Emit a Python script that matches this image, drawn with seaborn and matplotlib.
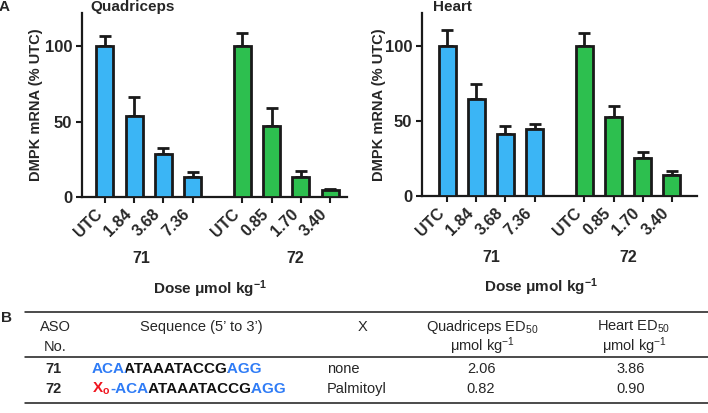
import matplotlib
matplotlib.use("Agg")
import matplotlib.pyplot as plt
import matplotlib.transforms as mtransforms
from matplotlib.font_manager import FontProperties
from matplotlib.textpath import TextToPath
import numpy as np
import pandas as pd
import seaborn as sns

# ---- data ----
doses = ["UTC", "1.84", "3.68", "7.36", "UTC", "0.85", "1.70", "3.40"]
aso = ["71", "71", "71", "71", "72", "72", "72", "72"]
quad_mean = [100, 54, 28.5, 13, 100, 47, 13.5, 4.4]
quad_sd = [6.5, 12, 4, 3.5, 9, 12, 3.5, 1.2]
heart_mean = [100, 65, 41.5, 45, 100, 53, 25.3, 14]
heart_sd = [11, 9.5, 5, 3, 9, 7, 4.2, 3]

tab_aso = ["71", "72"]
tab_x = ["none", "Palmitoyl"]
tab_quad_ed50 = ["2.06", "0.82"]
tab_heart_ed50 = ["3.86", "0.90"]

BLUE = "#3BB5F5"
GREEN = "#2DBF4F"
RED = "#F0141E"
SEQ_BLUE = "#2F7CF6"
INK = "#1a1a1a"

sns.set_style("ticks")
plt.rcParams["font.family"] = ["Liberation Sans", "DejaVu Sans"]
plt.rcParams["mathtext.fontset"] = "custom"
plt.rcParams["mathtext.rm"] = "Liberation Sans"
plt.rcParams["mathtext.bf"] = "Liberation Sans:bold"
plt.rcParams["mathtext.it"] = "Liberation Sans:italic"

# bar positions: second ASO group shifted to leave a gap
gap = 0.7
pos = [i + (gap if a == "72" else 0) for i, a in enumerate(aso)]

fig = plt.figure(figsize=(7.08, 4.13), dpi=100)
ax_q = fig.add_axes([82 / 708, 1 - 197 / 413, 265 / 708, 184 / 413])
ax_h = fig.add_axes([422 / 708, 1 - 196 / 413, 275 / 708, 183 / 413])


def panel(ax, means, sds, title, title_x, xlim, grp_x, ylab_x, xlab_x):
    df = pd.DataFrame({"pos": pos, "mean": means, "sd": sds, "aso": aso})
    sns.barplot(data=df, x="pos", y="mean", hue="aso", palette=[BLUE, GREEN],
                saturation=1, native_scale=True, dodge=False, width=0.58,
                edgecolor=INK, linewidth=2, errorbar=None, legend=False,
                ax=ax, zorder=3)
    ax.errorbar(df["pos"], df["mean"], yerr=[np.zeros(len(df)), df["sd"]],
                fmt="none", ecolor=INK, elinewidth=2, capsize=4.5,
                capthick=2, zorder=2)
    ax.set_xlim(*xlim)
    ax.set_ylim(0, 122)
    ax.set_yticks([0, 50, 100])
    ax.set_yticklabels(["0", "50", "100"], fontsize=12, fontweight="bold")
    ax.set_xticks(pos)
    ax.set_xticklabels(doses, rotation=45, ha="right", fontsize=11.5,
                       fontweight="bold")
    shift = mtransforms.ScaledTranslation(4 / 100, 0, fig.dpi_scale_trans)
    for lab in ax.get_xticklabels():
        lab.set_transform(lab.get_transform() + shift)
    ax.tick_params(axis="both", width=1.5, length=4, color=INK, pad=3)
    for s in ["left", "bottom"]:
        ax.spines[s].set_linewidth(1.6)
        ax.spines[s].set_color(INK)
    sns.despine(ax=ax)
    ax.set_ylabel("DMPK mRNA (% UTC)", fontsize=10.5, fontweight="bold")
    ax.yaxis.set_label_coords(ylab_x, 0.5)
    ax.set_xlabel("Dose \u03bcmol kg$^{\\mathbf{-1}}$", fontsize=11, fontweight="bold")
    ax.xaxis.set_label_coords(xlab_x, -0.44)
    for g, gx in zip(["71", "72"], grp_x):
        ax.text(gx, -0.335, g, transform=ax.get_xaxis_transform(), ha="center",
                va="center", fontsize=11.5, fontweight="bold")
    fig.text(title_x / 708, 1 - 7 / 413, title, ha="left", va="center",
             fontsize=11, fontweight="bold")


panel(ax_q, quad_mean, quad_sd, "Quadriceps", 90, (-0.78, 8.28), [1.25, 6.5], -0.147, 0.483)
panel(ax_h, heart_mean, heart_sd, "Heart", 433, (-0.86, 8.56), [1.5, 6.2], -0.13, 0.433)

fig.text(4 / 708, 1 - 7 / 413, "A", ha="center", va="center", fontsize=11, fontweight="bold")
fig.text(6 / 708, 1 - 318 / 413, "B", ha="center", va="center", fontsize=11, fontweight="bold")

# ---- table (panel B) ----
# table axes: one data unit = one pixel, y pointing down
tab = fig.add_axes([0, 0, 1, 1], zorder=-1)
tab.set_xlim(0, 708)
tab.set_ylim(413, 0)
tab.axis("off")
for yl in [312, 357, 403]:
    tab.plot([25, 708], [yl, yl], color=INK, lw=1.1)

hdr = dict(fontsize=10.5, ha="center", va="baseline")
tab.text(55, 331, "ASO", **hdr)
tab.text(55, 351, "No.", **hdr)
tab.text(201, 331, "Sequence (5\u2019 to 3\u2019)", **hdr)
tab.text(363, 331, "X", **hdr)
tab.text(482, 331, "Quadriceps ED$_{50}$", **hdr)
tab.text(482, 351, "\u03bcmol kg$^{-1}$", **hdr)
tab.text(634, 331, "Heart ED$_{50}$", **hdr)
tab.text(634, 351, "\u03bcmol kg$^{-1}$", **hdr)

SEQ_SIZE = 11
renderer = fig.canvas.get_renderer()
seq_kw = dict(ha="left", va="baseline", fontsize=SEQ_SIZE, fontweight="bold")
seq_prop = FontProperties(family="Liberation Sans", weight="bold", size=SEQ_SIZE)
t2p = TextToPath()


def ink_width(s):
    t = tab.text(0, 0, s, **seq_kw)
    w = t.get_window_extent(renderer).width
    t.remove()
    return w


def math_width(s):
    w, _, _ = t2p.get_text_width_height_descent(s, seq_prop, ismath=True)
    return w * fig.dpi / 72


def colored_text(x, y, parts):
    # optional mathtext lead (X_o), then the plain sequence drawn whole once
    # per colour and clipped, so spacing is exactly that of one string
    if parts[0][0].startswith("$"):
        tab.text(x, y, parts[0][0], color=parts[0][1], **seq_kw)
        x += math_width(parts[0][0]) + 0.5
        parts = parts[1:]
    full = "".join(s for s, _ in parts)
    cuts, prefix = [x - 6], ""
    for s, _ in parts[:-1]:
        prefix += s
        cuts.append(x + ink_width(prefix) + 0.6)
    cuts.append(x + ink_width(full) + 6)
    for i, (_, c) in enumerate(parts):
        (x0, y0), (x1, y1) = tab.transData.transform([(cuts[i], y + 8), (cuts[i + 1], y - 18)])
        clip = mtransforms.Bbox.from_extents(min(x0, x1), min(y0, y1), max(x0, x1), max(y0, y1))
        t = tab.text(x, y, full, color=c, **seq_kw)
        t.set_clip_box(clip)
        t.set_clip_on(True)


seq_parts = [
    [("ACA", SEQ_BLUE), ("ATAAATACCG", "#111111"), ("AGG", SEQ_BLUE)],
    [(r"$\mathbf{X}_{\mathbf{o}}$", RED), ("-ACA", SEQ_BLUE),
     ("ATAAATACCG", "#111111"), ("AGG", SEQ_BLUE)],
]
for i, y in enumerate([373, 393]):
    tab.text(53, y, tab_aso[i], ha="center", va="baseline", fontsize=10.5, fontweight="bold")
    colored_text(92, y, seq_parts[i])
    tab.text(327, y, tab_x[i], ha="left", va="baseline", fontsize=10.5)
    tab.text(481, y, tab_quad_ed50[i], ha="center", va="baseline", fontsize=10.5)
    tab.text(631, y, tab_heart_ed50[i], ha="center", va="baseline", fontsize=10.5)

fig.savefig("out.png", dpi=100)
